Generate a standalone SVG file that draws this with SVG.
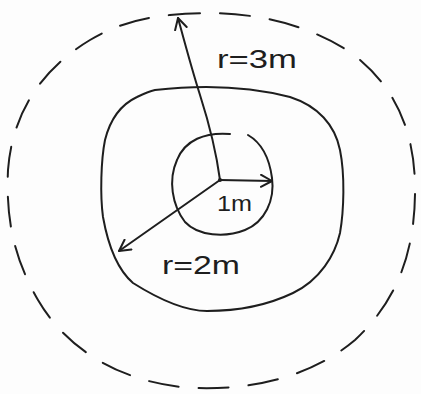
<svg xmlns="http://www.w3.org/2000/svg" width="421" height="394" viewBox="0 0 421 394">
<style>
.ln{fill:none;stroke:#1e1e1e;stroke-width:2;stroke-linecap:round;stroke-linejoin:round}
.dash{stroke-dasharray:30 20}
.lbl{font-family:"Liberation Sans",Arial,sans-serif;fill:#1e1e1e}
</style>
<defs>
<marker id="ah" viewBox="0 0 14 14" refX="12" refY="7" markerWidth="14" markerHeight="14" markerUnits="userSpaceOnUse" orient="auto">
<path d="M1 1 L12 7 L1 13" fill="none" stroke="#1e1e1e" stroke-width="2" stroke-linecap="round" stroke-linejoin="round"/>
</marker>
</defs>
<rect width="421" height="394" fill="#fdfdfd"/>
<g id="outer">
<path class="ln dash" d="M170,15 C240,8 300,20 350,52 C395,85 414,130 415,185 C416,250 398,300 355,340 C310,378 250,390 195,388 C130,385 70,355 38,300 C12,255 6,215 8,170 C12,115 40,70 90,40 C115,25 140,18 170,15 Z"/>
</g>
<g id="middle">
<path class="ln" d="M155,90 C190,86 240,84 290,97 C318,106 335,125 340,150 C345,175 344,210 340,233 C335,255 320,280 293,293 C270,304 240,311 207,311 C185,311 160,300 133,283 C118,270 108,245 103,217 C100,195 101,160 105,140 C110,120 120,105 137,97 C145,93 150,91 155,90"/>
</g>
<g id="inner">
<path class="ln" d="M230,134 C205,132 185,140 177,160 C168,180 172,205 185,222 C198,236 225,238 245,230 C265,222 275,200 272,178 C269,155 260,142 248,135"/>
</g>
<g id="connectors">
<path class="ln" d="M220,180 C216,150 208,120 200,95 C192,70 184,40 178,18" marker-end="url(#ah)"/>
<path class="ln" d="M220,180 L272,181" marker-end="url(#ah)"/>
<path class="ln" d="M220,180 L119,251" marker-end="url(#ah)"/>
<circle cx="220" cy="180" r="2" fill="#1e1e1e"/>
</g>
<g id="labels">
<text class="lbl" x="217" y="68" font-size="26" textLength="80" lengthAdjust="spacingAndGlyphs">r=3m</text>
<text class="lbl" x="217" y="211" font-size="22" textLength="35" lengthAdjust="spacingAndGlyphs">1m</text>
<text class="lbl" x="162" y="274" font-size="26" textLength="78" lengthAdjust="spacingAndGlyphs">r=2m</text>
</g>
</svg>
